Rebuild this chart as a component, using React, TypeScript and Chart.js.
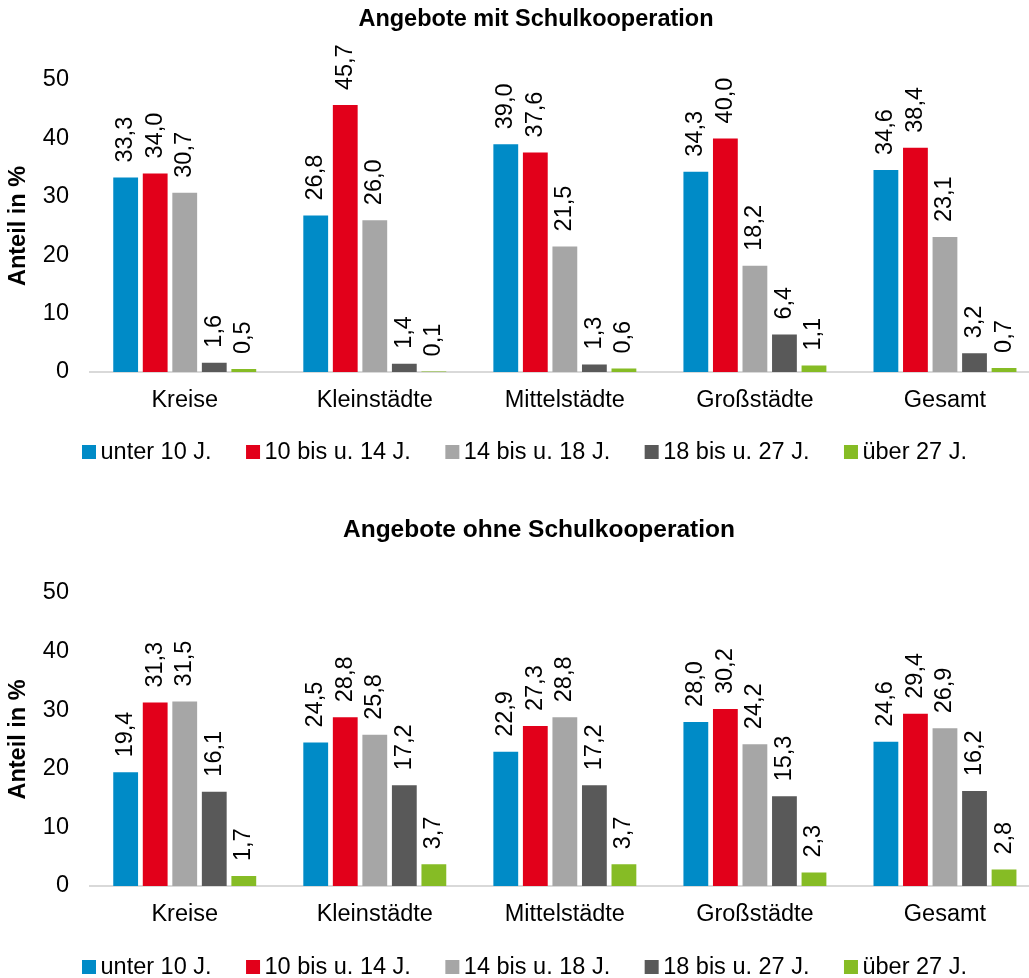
import React, { useEffect, useRef } from "react";
import { Chart, registerables } from "chart.js";

Chart.register(...registerables);

// ---------- data ----------
const categories = ["Kreise", "Kleinstädte", "Mittelstädte", "Großstädte", "Gesamt"];
const seriesLabels = ["unter 10 J.", "10 bis u. 14 J.", "14 bis u. 18 J.", "18 bis u. 27 J.", "über 27 J."];
const seriesColors = ["#008BC7", "#E2001A", "#A6A6A6", "#595959", "#86BC25"];

const mitUnter10 = [33.3, 26.8, 39.0, 34.3, 34.6];
const mit10bis14 = [34.0, 45.7, 37.6, 40.0, 38.4];
const mit14bis18 = [30.7, 26.0, 21.5, 18.2, 23.1];
const mit18bis27 = [1.6, 1.4, 1.3, 6.4, 3.2];
const mitUeber27 = [0.5, 0.1, 0.6, 1.1, 0.7];

const ohneUnter10 = [19.4, 24.5, 22.9, 28.0, 24.6];
const ohne10bis14 = [31.3, 28.8, 27.3, 30.2, 29.4];
const ohne14bis18 = [31.5, 25.8, 28.8, 24.2, 26.9];
const ohne18bis27 = [16.1, 17.2, 17.2, 15.3, 16.2];
const ohneUeber27 = [1.7, 3.7, 3.7, 2.3, 2.8];

const yMin = 0;
const yMax = 50;
const yStep = 10;

const titleMit = "Angebote mit Schulkooperation";
const titleOhne = "Angebote ohne Schulkooperation";
const yAxisTitle = "Anteil in %";

// ---------- styling ----------
const FONT = '"Liberation Sans", Arial, Helvetica, sans-serif';
const FS = 23.5;
const CANVAS_W = 1040;
const CANVAS_H = 489;
const X_TICK_PAD = 14;
const X_AXIS_H = X_TICK_PAD * 2 + FS * 1.2;

type PanelCfg = {
  title: string;
  titleSize: number;
  titleX: number;
  series: number[][];
  titleY: number;
  plotTop: number;
  plotBottom: number;
  legendY: number;
};

const decorPlugin = {
  id: "decor",
  afterDatasetsDraw(chart: any) {
    const ctx = chart.ctx;
    ctx.save();
    ctx.fillStyle = "#000";
    ctx.font = `${FS}px ${FONT}`;
    ctx.textAlign = "left";
    ctx.textBaseline = "middle";
    chart.data.datasets.forEach((ds: any, di: number) => {
      const meta = chart.getDatasetMeta(di);
      meta.data.forEach((bar: any, i: number) => {
        const v = ds.data[i] as number;
        const txt = v.toFixed(1).replace(".", ",");
        ctx.save();
        ctx.translate(bar.x, bar.y - 15);
        ctx.rotate(-Math.PI / 2);
        ctx.fillText(txt, 0, 0);
        ctx.restore();
      });
    });
    ctx.restore();
  },
  afterDraw(chart: any, _args: any, opts: any) {
    const ctx = chart.ctx;
    ctx.save();
    // title
    ctx.fillStyle = "#000";
    ctx.font = `bold ${opts.titleSize}px ${FONT}`;
    ctx.textAlign = "center";
    ctx.textBaseline = "middle";
    ctx.fillText(opts.title, opts.titleX, opts.titleY);
    // legend
    ctx.font = `${FS}px ${FONT}`;
    ctx.textAlign = "left";
    let x = opts.legendX;
    const y = opts.legendY;
    chart.data.datasets.forEach((ds: any) => {
      ctx.fillStyle = ds.backgroundColor;
      ctx.fillRect(x, y - 7, 14, 14);
      ctx.fillStyle = "#000";
      ctx.fillText(ds.label, x + 18.5, y + 1);
      const w = ctx.measureText(ds.label).width;
      x += 18.5 + w + 34.5;
    });
    ctx.restore();
  },
};

function BarPanel({ cfg, top }: { cfg: PanelCfg; top: number }) {
  const ref = useRef<HTMLCanvasElement | null>(null);
  useEffect(() => {
    if (!ref.current) return;
    const chart = new Chart(ref.current, {
      type: "bar",
      data: {
        labels: categories,
        datasets: cfg.series.map((vals, i) => ({
          label: seriesLabels[i],
          data: vals,
          backgroundColor: seriesColors[i],
          borderWidth: 0,
          categoryPercentage: 0.777,
          barPercentage: 0.84,
        })),
      },
      options: {
        responsive: false,
        animation: false,
        devicePixelRatio: 1,
        layout: {
          padding: {
            top: cfg.plotTop,
            bottom: CANVAS_H - cfg.plotBottom - X_AXIS_H,
            left: 0,
            right: 0,
          },
        },
        plugins: {
          legend: { display: false },
          title: { display: false },
          tooltip: { enabled: false },
          decor: {
            title: cfg.title,
            titleSize: cfg.titleSize,
            titleX: cfg.titleX,
            titleY: cfg.titleY,
            legendX: 82,
            legendY: cfg.legendY,
          },
        } as any,
        scales: {
          x: {
            grid: { display: false, drawTicks: false },
            border: { display: true, color: "#D9D9D9", width: 2 },
            ticks: {
              color: "#000",
              padding: X_TICK_PAD,
              font: { family: FONT, size: FS },
            },
          },
          y: {
            min: yMin,
            max: yMax,
            grid: { display: false, drawTicks: false },
            border: { display: false },
            ticks: {
              stepSize: yStep,
              color: "#000",
              padding: 20.7,
              font: { family: FONT, size: FS },
            },
            title: {
              display: true,
              text: yAxisTitle,
              color: "#000",
              padding: { top: 4, bottom: 0 },
              font: { family: FONT, size: FS, weight: "bold" },
            },
            afterFit: (scale: any) => {
              scale.width = 89.7;
            },
          },
        },
      },
      plugins: [decorPlugin as any],
    });
    return () => chart.destroy();
  }, [cfg]);
  return (
    <canvas
      ref={ref}
      width={CANVAS_W}
      height={CANVAS_H}
      style={{ position: "absolute", left: 0, top, width: CANVAS_W, height: CANVAS_H, display: "block" }}
    />
  );
}

const topCfg: PanelCfg = {
  title: titleMit,
  titleSize: 23.5,
  titleX: 536,
  series: [mitUnter10, mit10bis14, mit14bis18, mit18bis27, mitUeber27],
  titleY: 20,
  plotTop: 80,
  plotBottom: 372,
  legendY: 452,
};

const bottomCfg: PanelCfg = {
  title: titleOhne,
  titleSize: 24.5,
  titleX: 539,
  series: [ohneUnter10, ohne10bis14, ohne14bis18, ohne18bis27, ohneUeber27],
  titleY: 41,
  plotTop: 104,
  plotBottom: 397,
  legendY: 478,
};

export default function App() {
  return (
    <div
      style={{
        position: "absolute",
        left: 0,
        top: 0,
        width: 1029,
        height: 978,
        overflow: "hidden",
        background: "#fff",
      }}
    >
      <BarPanel cfg={topCfg} top={0} />
      <BarPanel cfg={bottomCfg} top={489} />
    </div>
  );
}
